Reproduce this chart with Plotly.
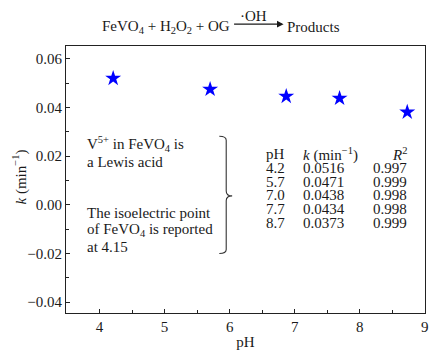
import plotly.graph_objects as go

# Data
ph_points = [4.21, 5.70, 6.87, 7.69, 8.73]
k_points = [0.0520, 0.0475, 0.0446, 0.0438, 0.0381]

table_ph = ["4.2", "5.7", "7.0", "7.7", "8.7"]
table_k = ["0.0516", "0.0471", "0.0438", "0.0434", "0.0373"]
table_r2 = ["0.997", "0.999", "0.998", "0.998", "0.999"]

x_ticks = [4, 5, 6, 7, 8, 9]
y_ticks = [-0.04, -0.02, 0.00, 0.02, 0.04, 0.06]

W, H = 432, 351
L, R, T, B = 66, 3, 46, 36
PW, PH = W - L - R, H - T - B

def px(x):
    return (x - L) / PW

def py(y):
    return (H - B - y) / PH

FONT = "Liberation Serif"
FS = 15
TXT = "#1a1a1a"

fig = go.Figure()
fig.add_trace(go.Scatter(
    x=ph_points, y=k_points, mode="markers",
    marker=dict(symbol="star", size=12, color="#0000ff", line=dict(width=0)),
    showlegend=False,
))

ann = []
def txt(x, y, s, xanchor="left", size=FS, angle=0):
    ann.append(dict(x=px(x), y=py(y), xref="paper", yref="paper", text=s,
                    showarrow=False, xanchor=xanchor, yanchor="middle",
                    textangle=angle, borderpad=0,
                    font=dict(family=FONT, size=size, color=TXT)))

# title reaction
txt(233, 27, "FeVO<sub>4</sub> + H<sub>2</sub>O<sub>2</sub> + OG", xanchor="right")
txt(256, 16, "·OH", xanchor="center")
txt(288, 27, "Products")
ann.append(dict(x=px(286), y=py(24), xref="paper", yref="paper",
                ax=-51, ay=0, axref="pixel", ayref="pixel",
                showarrow=True, arrowhead=2, arrowsize=1.1, arrowwidth=1.2,
                arrowcolor=TXT, text=""))

# y axis title
txt(19, 178, "<i>k</i> (min<sup>−1</sup>)", xanchor="center", angle=-90)

# left notes
txt(86, 145, "V<sup>5+</sup> in FeVO<sub>4</sub> is")
txt(86, 163, "a Lewis acid")
txt(86, 214, "The isoelectric point")
txt(86, 231, "of FeVO<sub>4</sub> is reported")
txt(86, 249, "at 4.15")

# table
txt(267, 155, "pH")
txt(305, 155, "<i>k</i> (min<sup>−1</sup>)")
txt(412, 155, "<i>R</i><sup>2</sup>", xanchor="right")
for i, (a, b, c) in enumerate(zip(table_ph, table_k, table_r2)):
    yy = 169 + i * 13.8
    txt(267, yy, a)
    txt(305, yy, b)
    txt(412, yy, c, xanchor="right")

# brace
pts = [(221, 137), (228, 141), (228, 192), (234, 197), (228, 202), (228, 251), (221, 255)]
p = [(px(a), py(b)) for a, b in pts]
path = (f"M{p[0][0]},{p[0][1]} Q{px(228)},{py(137)} {p[1][0]},{p[1][1]} "
        f"L{p[2][0]},{p[2][1]} Q{px(228)},{py(197)} {p[3][0]},{p[3][1]} "
        f"Q{px(228)},{py(197)} {p[4][0]},{p[4][1]} "
        f"L{p[5][0]},{p[5][1]} Q{px(228)},{py(255)} {p[6][0]},{p[6][1]}")
shapes = [dict(type="path", xref="paper", yref="paper", path=path,
               line=dict(color="#333", width=1.1))]

axis_common = dict(showline=True, linecolor="#222", linewidth=1.2, mirror=True,
                   ticks="inside", ticklen=4, tickcolor="#222", showgrid=False,
                   zeroline=False, tickfont=dict(family=FONT, size=FS, color=TXT))

fig.update_layout(
    width=W, height=H,
    margin=dict(l=L, r=R, t=T, b=B),
    plot_bgcolor="white", paper_bgcolor="white",
    xaxis=dict(range=[3.485, 9.003], tickvals=x_ticks, ticktext=[str(v) for v in x_ticks],
               minor=dict(ticks="inside", ticklen=3, dtick=0.5, tickcolor="#222"),
               title=dict(text="pH", font=dict(family=FONT, size=FS, color=TXT), standoff=2),
               **axis_common),
    yaxis=dict(range=[-0.0445, 0.0653], tickvals=y_ticks,
               ticktext=[f"{v:.2f}".replace("-", "−") for v in y_ticks],
               minor=dict(ticks="inside", ticklen=3, dtick=0.01, tickcolor="#222"),
               **axis_common),
    annotations=ann, shapes=shapes,
)

fig.write_html("out.html")
